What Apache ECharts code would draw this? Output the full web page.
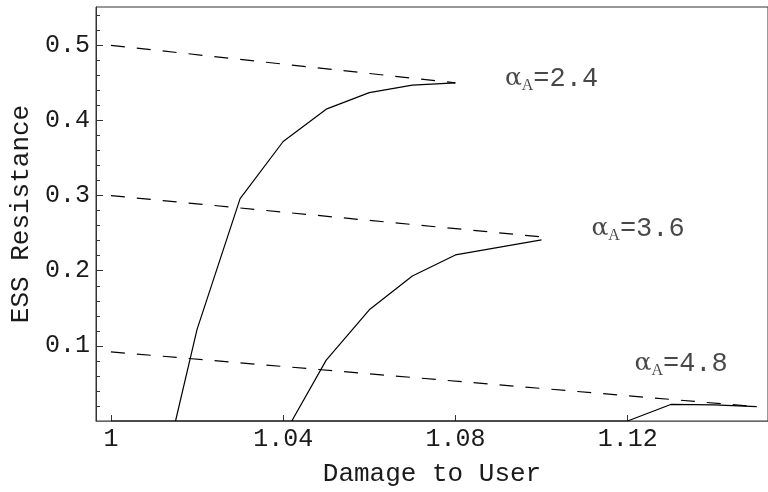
<!DOCTYPE html>
<html>
<head>
<meta charset="utf-8">
<script src="https://cdn.jsdelivr.net/npm/echarts@6/dist/echarts.min.js"></script>
<style>html,body{margin:0;padding:0;background:#fff;}#c{width:768px;height:492px;}</style>
</head>
<body>
<div id="c"></div>
<script>
// Data
const xTicks = [1, 1.04, 1.08, 1.12];
const yTicks = [0.1, 0.2, 0.3, 0.4, 0.5];
const yMinorTicks = [0.02, 0.04, 0.06, 0.08, 0.12, 0.14, 0.16, 0.18, 0.22, 0.24, 0.26, 0.28,
  0.32, 0.34, 0.36, 0.38, 0.42, 0.44, 0.46, 0.48, 0.52, 0.54];

const essA24 = [[1.015, 0], [1.02, 0.122], [1.03, 0.296], [1.04, 0.372], [1.05, 0.415],
  [1.06, 0.437], [1.07, 0.447], [1.08, 0.450]];
const essA36 = [[1.042, 0], [1.05, 0.081], [1.06, 0.148], [1.07, 0.193], [1.08, 0.221], [1.10, 0.241]];
const essA48 = [[1.0, 0], [1.12, 0], [1.13, 0.022], [1.14, 0.0215], [1.15, 0.019]];

const dashA24 = [[1.0, 0.5], [1.08, 0.45]];
const dashA36 = [[1.0, 0.3], [1.10, 0.245]];
const dashA48 = [[1.0, 0.092], [1.15, 0.019]];

const labelNames = ['2.4', '3.6', '4.8'];
const labelPos = [[1.0915, 0.456], [1.1116, 0.256], [1.1216, 0.076]];

const mono = 'Liberation Mono';
const chart = echarts.init(document.getElementById('c'));

function solid(data) {
  return { type: 'line', data: data, symbol: 'none', silent: true,
    lineStyle: { color: '#000', width: 1.2 }, itemStyle: { color: '#000' } };
}
function dashed(data) {
  return { type: 'line', data: data, symbol: 'none', silent: true,
    lineStyle: { color: '#000', width: 1.2, type: [14, 12] }, itemStyle: { color: '#000' } };
}

chart.setOption({
  animation: false,
  backgroundColor: '#fff',
  grid: { left: 95, right: -2, top: 7, bottom: 64, show: true, borderColor: '#333', borderWidth: 1, backgroundColor: 'transparent' },
  xAxis: {
    type: 'value', min: 0.99653, max: 1.1526,
    name: 'Damage to User', nameLocation: 'middle', nameGap: 40,
    nameTextStyle: { fontFamily: mono, fontSize: 26, color: '#1a1a1a' },
    axisLine: { show: true, lineStyle: { color: '#666', width: 1 } },
    axisTick: { show: true, inside: true, length: 6, customValues: xTicks, lineStyle: { color: '#333' } },
    axisLabel: { customValues: xTicks, fontFamily: mono, fontSize: 25, color: '#1a1a1a', margin: 6 },
    splitLine: { show: false }
  },
  yAxis: [{
    type: 'value', min: 0, max: 0.551, position: 'left',
    name: 'ESS Resistance', nameLocation: 'middle', nameGap: 62, nameRotate: 90,
    nameTextStyle: { fontFamily: mono, fontSize: 26, color: '#1a1a1a' },
    axisLine: { show: true, lineStyle: { color: '#333', width: 1 } },
    axisTick: { show: true, inside: true, length: 7, customValues: yTicks, lineStyle: { color: '#333' } },
    axisLabel: { customValues: yTicks, fontFamily: mono, fontSize: 25, color: '#1a1a1a', margin: 6 },
    splitLine: { show: false }
  }, {
    type: 'value', min: 0, max: 0.551, position: 'left',
    axisLine: { show: false },
    axisTick: { show: true, inside: true, length: 4, customValues: yMinorTicks, lineStyle: { color: '#333' } },
    axisLabel: { show: false },
    splitLine: { show: false }
  }],
  series: [
    dashed(dashA24), dashed(dashA36), dashed(dashA48),
    solid(essA24), solid(essA36), solid(essA48),
    {
      type: 'scatter', symbolSize: 0, silent: true,
      data: labelPos.map((p, i) => ({ value: p, name: labelNames[i] })),
      label: {
        show: true, position: 'inside', align: 'left', verticalAlign: 'middle',
        formatter: p => '{a|α}{s|A}{m|=' + p.name + '}',
        rich: {
          a: { fontFamily: 'DejaVu Serif', fontSize: 25, color: '#1a1a1a', lineHeight: 30 },
          s: { fontFamily: 'Liberation Serif', fontSize: 16, color: '#1a1a1a', lineHeight: 16, verticalAlign: 'bottom' },
          m: { fontFamily: mono, fontSize: 27, color: '#1a1a1a', lineHeight: 30 }
        }
      }
    }
  ]
});
</script>
</body>
</html>
